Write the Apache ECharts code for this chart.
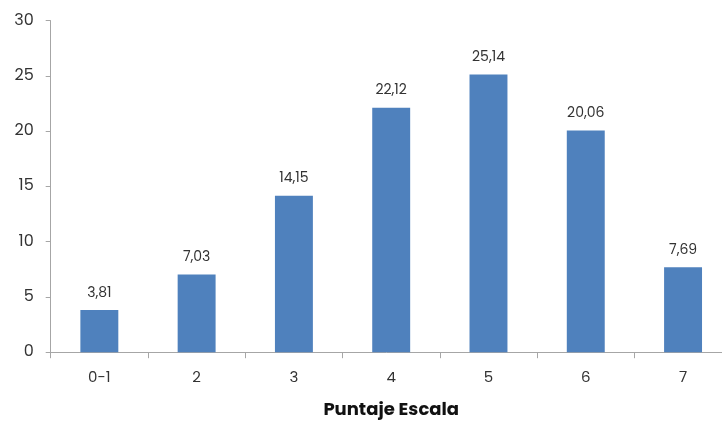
<!DOCTYPE html>
<html><head><meta charset="utf-8">
<script src="https://cdn.jsdelivr.net/npm/echarts@6/dist/echarts.min.js"></script>
<style>html,body{margin:0;padding:0;background:#fff}#c{width:722px;height:422px}</style>
</head><body><div id="c"></div>
<script>
const categories = ['0-1','2','3','4','5','6','7'];
const values = [3.81, 7.03, 14.15, 22.12, 25.14, 20.06, 7.69];
const yTicks = [0, 5, 10, 15, 20, 25, 30];
const xName = 'Puntaje Escala';

const chart = echarts.init(document.getElementById('c'), null, {renderer:'canvas'});
const font = 'Poppins, "Open Sans", sans-serif';
chart.setOption({
  animation: false,
  grid: {left: 50.7, top: 20.7, width: 681, height: 331.5, containLabel: false, outerBoundsMode: 'none'},
  xAxis: {
    type: 'category', data: categories,
    name: xName, nameLocation: 'middle', nameGap: 49,
    nameTextStyle: {fontFamily: font, fontSize: 18, fontWeight: 'bold', color: '#111'},
    axisLine: {lineStyle: {color: '#a6a6a6', width: 1}},
    axisTick: {show: true, length: 6, lineStyle: {color: '#a6a6a6'}},
    axisLabel: {fontFamily: font, fontSize: 15, color: '#333', margin: 19}
  },
  yAxis: {
    type: 'value', min: yTicks[0], max: yTicks[yTicks.length-1], interval: 5,
    axisLine: {show: true, lineStyle: {color: '#a6a6a6', width: 1}},
    axisTick: {show: true, length: 5, lineStyle: {color: '#a6a6a6'}},
    splitLine: {show: false},
    axisLabel: {fontFamily: font, fontSize: 16, color: '#333', margin: 17}
  },
  series: [{
    type: 'bar', data: values, barWidth: '39%',
    itemStyle: {color: '#4f81bd'},
    label: {show: true, position: 'top', distance: 10, fontFamily: font, fontSize: 14, color: '#333',
      formatter: p => p.value.toFixed(2).replace('.', ',')}
  }]
});
</script></body></html>
